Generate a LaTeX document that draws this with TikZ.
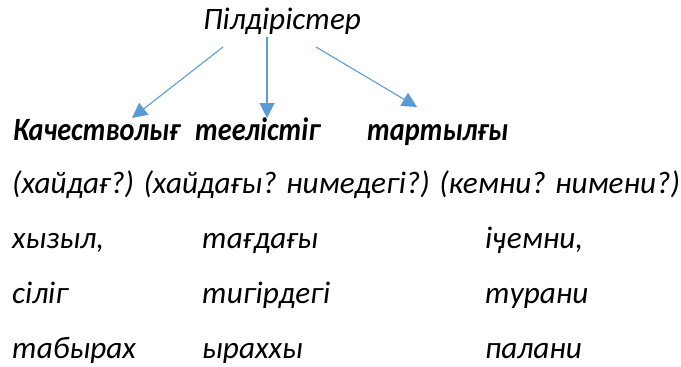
\documentclass[tikz,border=0pt]{standalone}
\usepackage{fontspec}
\setmainfont{Carlito}
\newfontfamily\boldnarrow[FakeStretch=0.87]{Carlito}
\usetikzlibrary{arrows.meta}
\definecolor{arrowblue}{HTML}{5B9BD5}
\tikzset{
  txt/.style={anchor=base west, inner sep=0pt, font=\fontsize{31.2}{36}\selectfont\itshape},
  boldtxt/.style={anchor=base west, inner sep=0pt, font=\boldnarrow\fontsize{32.5}{38}\selectfont\bfseries\itshape},
  arr/.style={draw=arrowblue, line width=1.1pt, -{Triangle[width=15pt,length=15pt]}}
}
\begin{document}
\begin{tikzpicture}[x=1pt,y=-1pt]
\useasboundingbox (0,0) rectangle (681,367);
\node[txt] (title) at (203,29) {Пілдірістер};
\node[boldtxt] (b1) at (13,140) {Качестволығ};
\node[boldtxt] (b2) at (195,140) {теелістіг};
\node[boldtxt] (b3) at (367,140) {тартылғы};
\node[txt] (q) at (12,193) {(хайдағ?) (хайдағы? нимедегі?) (кемни? нимени?)};
\node[txt] (a1) at (12,248) {хызыл,};
\node[txt] (a2) at (202,248) {тағдағы};
\node[txt] (a3) at (485,248) {іӌемни,};
\node[txt] (c1) at (12,303) {сіліг};
\node[txt] (c2) at (202,303) {тигірдегі};
\node[txt] (c3) at (485,303) {турани};
\node[txt] (d1) at (12,358) {табырах};
\node[txt] (d2) at (202,358) {ыраххы};
\node[txt] (d3) at (485,358) {палани};
\coordinate (s1) at (223,47);
\coordinate (s2) at (267,37);
\coordinate (s3) at (316,47);
\coordinate (e1) at (132,118);
\coordinate (e2) at (267,118);
\coordinate (e3) at (417,107);
\draw[arr] (s1) -- (e1);
\draw[arr] (s2) -- (e2);
\draw[arr] (s3) -- (e3);
\end{tikzpicture}
\end{document}
